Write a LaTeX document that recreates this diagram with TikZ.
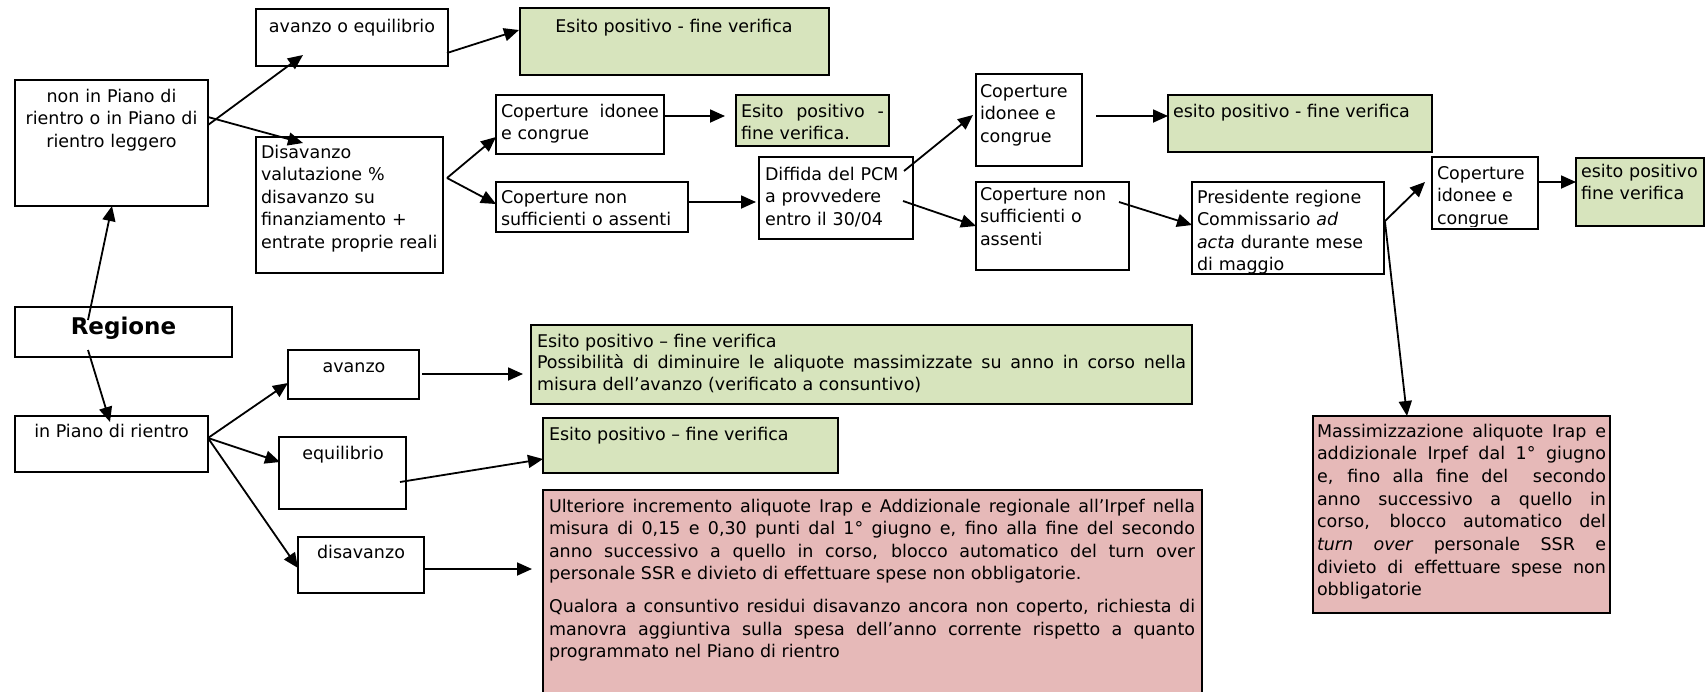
\documentclass[tikz,border=0pt]{standalone}
\usepackage{fontspec}
\setmainfont{DejaVu Sans}
\usetikzlibrary{arrows.meta,calc}
\definecolor{okgreen}{HTML}{D7E4BD}
\definecolor{kopink}{HTML}{E6B9B8}
\tikzset{
  box/.style={draw=black, line width=1.8pt, inner sep=0pt, outer sep=0pt, anchor=north west, fill=white},
  gbox/.style={box, fill=okgreen},
  pbox/.style={box, fill=kopink},
  txt/.style={inner sep=0pt, outer sep=0pt, font=\fontsize{17.5}{22.5}\selectfont, align=left},
  arr/.style={line width=1.8pt, -{Triangle[length=15pt,width=13pt]}},
}
\begin{document}
\begin{tikzpicture}[x=1pt,y=-1pt]
\useasboundingbox (0,0) rectangle (1706,691);
\fill[white] (0,0) rectangle (1706,691);

% ---------- boxes ----------
\node[box, minimum width=193pt, minimum height=126pt] (nip) at (15,80) {};
\node[box, minimum width=192pt, minimum height=57pt] (aoe) at (256,9) {};
\node[gbox, minimum width=309pt, minimum height=67pt] (e1) at (520,8) {};
\node[box, minimum width=187pt, minimum height=136pt] (dis) at (256,137) {};
\node[box, minimum width=168pt, minimum height=59pt] (ci1) at (496,95) {};
\node[gbox, minimum width=153pt, minimum height=51pt] (e2) at (736,95) {};
\node[box, minimum width=192pt, minimum height=50pt] (cn1) at (496,182) {};
\node[box, minimum width=154pt, minimum height=82pt] (dif) at (759,157) {};
\node[box, minimum width=106pt, minimum height=92pt] (ci2) at (976,74) {};
\node[gbox, minimum width=264pt, minimum height=57pt] (e3) at (1168,95) {};
\node[box, minimum width=153pt, minimum height=88pt] (cn2) at (976,182) {};
\node[box, minimum width=192pt, minimum height=92pt] (pres) at (1192,182) {};
\node[box, minimum width=106pt, minimum height=72pt] (ci3) at (1432,157) {};
\node[gbox, minimum width=128pt, minimum height=68pt] (e4) at (1576,158) {};
\node[box, minimum width=217pt, minimum height=50pt] (reg) at (15,307) {};
\node[box, minimum width=193pt, minimum height=56pt] (ipr) at (15,416) {};
\node[box, minimum width=131pt, minimum height=49pt] (av) at (288,350) {};
\node[box, minimum width=127pt, minimum height=72pt] (eq) at (279,437) {};
\node[box, minimum width=126pt, minimum height=56pt] (dv) at (298,537) {};
\node[gbox, minimum width=661pt, minimum height=79pt] (e5) at (531,325) {};
\node[gbox, minimum width=295pt, minimum height=55pt] (e6) at (543,418) {};
\node[pbox, minimum width=659pt, minimum height=210pt] (pk1) at (543,490) {};
\node[pbox, minimum width=297pt, minimum height=197pt] (pk2) at (1313,416) {};

% ---------- texts ----------
\node[txt, text width=190pt, align=center, anchor=base] (nip-t) at (111.5,102) {non in Piano di\\rientro o in Piano di\\rientro leggero};
\node[txt, anchor=base] (aoe-t) at (352,32) {avanzo o equilibrio};
\node[txt, anchor=base] (e1-t) at (674,32) {Esito positivo - fine verifica};
\node[txt, text width=180pt, anchor=base west] (dis-t) at (261,158) {Disavanzo\\valutazione \%\\disavanzo su\\finanziamento +\\entrate proprie reali};
\node[txt, anchor=base west, text width=158pt] (ci1-t) at (501,117) {Coperture\hfill idonee\\e congrue};
\node[txt, anchor=base west, text width=143pt] (e2-t) at (741,117) {Esito\hfill positivo\hfill -\\fine verifica.};
\node[txt, text width=185pt, anchor=base west] (cn1-t) at (501,203) {Coperture non\\sufficienti o assenti};
\node[txt, text width=145pt, anchor=base west] (dif-t) at (765,180) {Diffida del PCM\\a provvedere\\entro il 30/04};
\node[txt, text width=100pt, anchor=base west] (ci2-t) at (980,97) {Coperture\\idonee e\\congrue};
\node[txt, anchor=base west] (e3-t) at (1173,117) {esito positivo - fine verifica};
\node[txt, text width=145pt, anchor=base west] (cn2-t) at (980,200) {Coperture non\\sufficienti o\\assenti};
\begin{scope}
  \clip (pres.north west) rectangle (pres.south east);
  \node[txt, text width=185pt, anchor=base west] (pres-t) at (1197,203) {Presidente regione\\Commissario \textit{ad}\\\textit{acta} durante mese\\di maggio};
\end{scope}
\begin{scope}
  \clip (ci3.north west) rectangle ($(ci3.south east)+(0,-3)$);
  \node[txt, text width=100pt, anchor=base west] (ci3-t) at (1437,179) {Coperture\\idonee e\\congrue};
\end{scope}
\node[txt, text width=125pt, anchor=base west] (e4-t) at (1581,177) {esito positivo\\fine verifica};
\node[txt, anchor=base, font=\fontsize{23}{27}\selectfont\bfseries] (reg-t) at (123.5,334) {Regione};
\node[txt, anchor=base] (ipr-t) at (111.5,437) {in Piano di rientro};
\node[txt, anchor=base] (av-t) at (354,372) {avanzo};
\node[txt, anchor=base] (eq-t) at (343,459) {equilibrio};
\node[txt, anchor=base] (dv-t) at (361,558) {disavanzo};
\node[txt, anchor=base west, text width=649pt, align=justify, font=\fontsize{17.5}{21.5}\selectfont] (e5-t) at (537,347)
  {Esito positivo – fine verifica\\Possibilità di diminuire le aliquote massimizzate su anno in corso nella\linebreak misura dell’avanzo (verificato a consuntivo)};
\node[txt, anchor=base west] (e6-t) at (549,440) {Esito positivo – fine verifica};
\node[txt, anchor=base west, text width=646pt, align=justify] (pk1-t) at (549,512)
  {Ulteriore incremento aliquote Irap e Addizionale regionale all’Irpef nella\linebreak misura di 0,15 e 0,30 punti dal 1° giugno  e, fino alla fine del secondo\linebreak anno successivo a quello in corso, blocco automatico del turn over\linebreak personale SSR e divieto di effettuare spese non obbligatorie.\par\vspace{10.5pt}Qualora a consuntivo residui disavanzo ancora non coperto, richiesta di\linebreak manovra aggiuntiva sulla spesa dell’anno corrente rispetto a quanto\linebreak programmato nel Piano di rientro};
\node[txt, anchor=base west, text width=289pt, align=justify, font=\fontsize{17.5}{22.7}\selectfont] (pk2-t) at (1317,437)
  {Massimizzazione aliquote Irap e\linebreak addizionale Irpef dal 1° giugno\linebreak e, fino alla fine del \ secondo\linebreak anno successivo a quello in\linebreak corso, blocco automatico del\linebreak \textit{turn over} personale SSR e\linebreak divieto di effettuare spese non\linebreak obbligatorie};

% ---------- connectors ----------
\draw[arr] ($(reg.north west)+(73,13)$) -- ($(nip.north west)+(97,126)$);
\draw[arr] ($(reg.north west)+(73,43)$) -- ($(ipr.north west)+(95,6)$);
\draw[arr] ($(nip.north west)+(193,45)$) -- ($(aoe.north west)+(47,46)$);
\draw[arr] ($(nip.north west)+(193,37)$) -- ($(dis.north west)+(47,6)$);
\draw[arr] ($(aoe.north west)+(191,44)$) -- ($(e1.north west)+(-1,22)$);
\draw[arr] ($(dis.north west)+(191,41)$) -- ($(ci1.north west)+(0,42)$);
\draw[arr] ($(dis.north west)+(191,41)$) -- ($(cn1.north west)+(0,22)$);
\draw[arr] ($(ci1.north west)+(168,21)$) -- ($(e2.north west)+(-11,21)$);
\draw[arr] ($(cn1.north west)+(192,20)$) -- ($(dif.north west)+(-3,45)$);
\draw[arr] ($(dif.north west)+(145,14)$) -- ($(ci2.north west)+(-3,41)$);
\draw[arr] ($(dif.north west)+(144,44)$) -- ($(cn2.north west)+(0,44)$);
\draw[arr] ($(ci2.north west)+(120,42)$) -- ($(e3.north west)+(0,21)$);
\draw[arr] ($(cn2.north west)+(143,20)$) -- ($(pres.north west)+(0,43)$);
\draw[arr] ($(pres.north west)+(192,40)$) -- ($(ci3.north west)+(-7,25)$);
\draw[arr] ($(pres.north west)+(193,40)$) -- ($(pk2.north west)+(94,0)$);
\draw[arr] ($(ci3.north west)+(106,25)$) -- ($(e4.north west)+(0,24)$);
\draw[arr] ($(ipr.north west)+(193,22)$) -- ($(av.north west)+(0,33)$);
\draw[arr] ($(ipr.north west)+(193,22)$) -- ($(eq.north west)+(1,25)$);
\draw[arr] ($(ipr.north west)+(193,22)$) -- ($(dv.north west)+(0,31)$);
\draw[arr] ($(av.north west)+(134,24)$) -- ($(e5.north west)+(-8,49)$);
\draw[arr] ($(eq.north west)+(121,45)$) -- ($(e6.north west)+(0,41)$);
\draw[arr] ($(dv.north west)+(125,32)$) -- ($(pk1.north west)+(-11,79)$);
\end{tikzpicture}
\end{document}
